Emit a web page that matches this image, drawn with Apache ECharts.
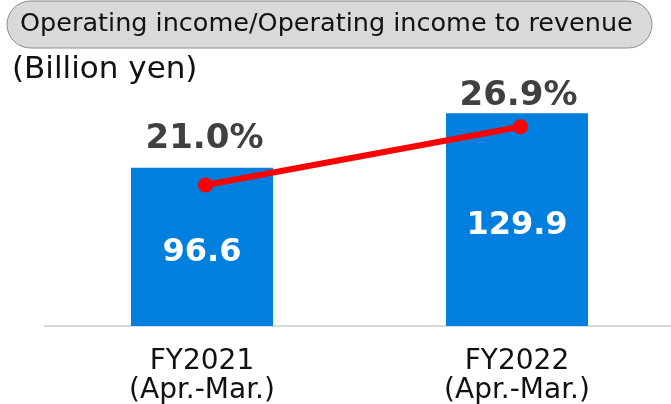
<!DOCTYPE html>
<html>
<head>
<meta charset="utf-8">
<script src="https://cdn.jsdelivr.net/npm/echarts@6/dist/echarts.min.js"></script>
<style>
  html, body { margin: 0; padding: 0; background: #fff; }
  #chart { width: 671px; height: 404px; }
</style>
</head>
<body>
<div id="chart"></div>
<script>
// data
const categories = ["FY2021\n(Apr.-Mar.)", "FY2022\n(Apr.-Mar.)"];
const operatingIncome = [96.6, 129.9];   // billion yen
const incomeRatio = [21.0, 26.9];        // % of revenue

const FONT = "DejaVu Sans";
const ratioLabelOffsets = [[-1, -46], [-2, -31]];

const chart = echarts.init(document.getElementById("chart"));

const options = {
  animation: false,
  graphic: [
    {
      type: "rect",
      shape: { x: 7, y: 1, width: 645, height: 47, r: 23.5 },
      style: { fill: "#d9d9d9", stroke: "#8c8c8c", lineWidth: 1 }
    },
    {
      type: "text",
      left: 20,
      top: 11,
      style: {
        text: "Operating income/Operating income to revenue",
        font: "25.5px " + FONT,
        fill: "#111"
      }
    },
    {
      type: "text",
      left: 12,
      top: 54,
      style: { text: "(Billion yen)", font: "31px " + FONT, fill: "#111" }
    }
  ],
  // outerBoundsMode none: the reference plot runs a little past the right edge
  grid: [
    { left: 44.5, width: 630, top: 60, height: 266, outerBoundsMode: "none" },
    { left: 48, width: 630, top: 60, height: 266, outerBoundsMode: "none" }
  ],
  xAxis: [
    {
      type: "category",
      gridIndex: 0,
      data: categories,
      axisLine: { lineStyle: { color: "#d9d9d9", width: 2 } },
      axisTick: { show: false },
      axisLabel: {
        color: "#111",
        fontFamily: FONT,
        fontSize: 28,
        lineHeight: 29,
        margin: 21
      }
    },
    {
      type: "category",
      gridIndex: 1,
      data: categories,
      show: false
    }
  ],
  yAxis: [
    { type: "value", gridIndex: 0, min: 0, max: 162.5, show: false },
    { type: "value", gridIndex: 1, min: 6.73, max: 33.65, show: false }
  ],
  series: [
    {
      name: "Operating income",
      type: "bar",
      xAxisIndex: 0,
      yAxisIndex: 0,
      barWidth: 142,
      data: operatingIncome,
      itemStyle: { color: "#007fdf" },
      label: {
        show: true,
        position: "inside",
        offset: [0, 6],
        color: "#fff",
        fontFamily: FONT,
        fontWeight: "bold",
        fontSize: 32,
        formatter: (p) => p.value.toFixed(1)
      }
    },
    {
      name: "Operating income to revenue",
      type: "line",
      xAxisIndex: 1,
      yAxisIndex: 1,
      data: incomeRatio.map((v, i) => ({
        value: v,
        label: { offset: ratioLabelOffsets[i] }
      })),
      symbol: "circle",
      symbolSize: 15,
      lineStyle: { color: "#ff0000", width: 6 },
      itemStyle: { color: "#ff0000" },
      label: {
        show: true,
        position: "inside",
        color: "#404040",
        fontFamily: FONT,
        fontWeight: "bold",
        fontSize: 34,
        formatter: (p) => p.value.toFixed(1) + "%"
      },
      z: 5
    }
  ]
};

chart.setOption(options);
</script>
</body>
</html>
